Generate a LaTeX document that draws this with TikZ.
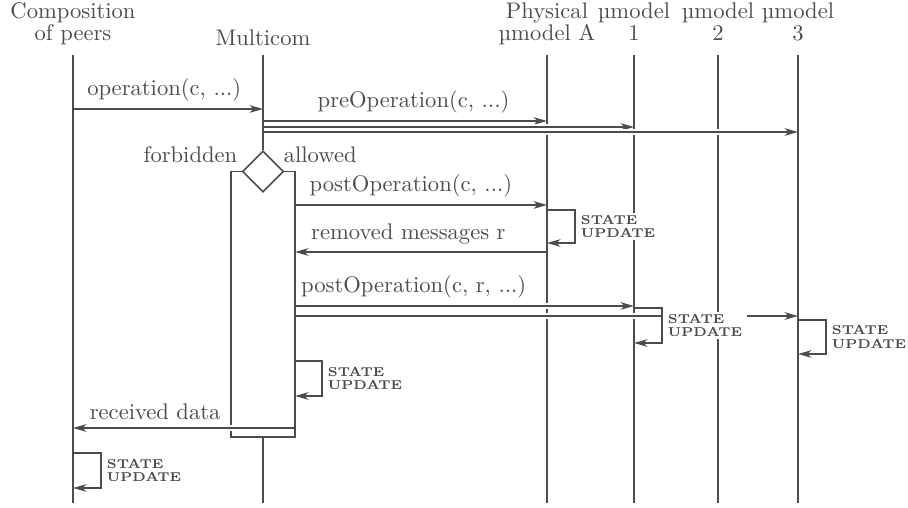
\documentclass[tikz,border=0pt]{standalone}
\usetikzlibrary{arrows.meta,shapes.geometric}
\colorlet{ink}{black!70}
\tikzset{
	head/.style={align=center,anchor=north,inner sep=0pt,font=\fontsize{10}{9.7}\selectfont},
	msg/.style={->,preaction={draw=white,line width=2.6pt,arrows=-,shorten <=0.8pt,shorten >=0.8pt}},
	upd/.style={right,align=left,inner xsep=2.3pt,inner ysep=1pt,font=\fontsize{5.7}{6.1}\selectfont\bfseries},
}
\begin{document}
\begin{tikzpicture}[x=0.4425pt,y=-0.4425pt,line width=0.65pt,draw=ink,text=ink,
	>={Stealth[length=6pt,width=3.4pt,inset=1.8pt]}]
	\useasboundingbox (0,0) rectangle (908,508);
	% heads
	\foreach \n/\x/\t in {comp/73/{Composition\\of peers},phys/547/{Physical\\µmodel A},
		mod1/634/{µmodel\\1},mod2/718/{µmodel\\2},mod3/798/{µmodel\\3}}
	\node[head] (\n) at (\x,2) {\t};
	\node[head] (multi) at (263,29.5) {Multicom};
	% lifelines
	\foreach \n/\x in {C/73,M/263,A/547,U1/634,U2/718,U3/798}
	\path (\x,55) coordinate (\n_t) (\x,503) coordinate (\n_b);
	\node[diamond,draw,inner sep=0pt,minimum size=18.2pt] (dec) at (263,171.5) {};
	\path
	(231,171.5) coordinate (F_tl) (231,437) coordinate (F_bl)
	(295,437) coordinate (F_br) (295,171.5) coordinate (F_tr)
	(263,437) coordinate (M_f)
	(73,109) coordinate (C_1) (263,109) coordinate (M_1)
	(263,121) coordinate (M_2) (547,121) coordinate (A_2)
	(263,127) coordinate (M_3) (634,127) coordinate (U1_3)
	(263,132) coordinate (M_4) (798,132) coordinate (U3_4)
	(295,205) coordinate (R_5) (547,205) coordinate (A_5)
	(547,252) coordinate (A_6) (295,252) coordinate (R_6)
	(295,306) coordinate (R_7) (634,306) coordinate (U1_7)
	(295,316) coordinate (R_8) (798,316) coordinate (U3_8)
	(295,428) coordinate (R_9) (73,428) coordinate (C_9)
	(547,210) coordinate (A_u) (547,243) coordinate (A_d)
	(634,308) coordinate (U1_u) (634,343) coordinate (U1_d)
	(798,320) coordinate (U3_u) (798,354) coordinate (U3_d)
	(295,361) coordinate (R_u) (295,396) coordinate (R_d)
	(73,453) coordinate (C_u) (73,488) coordinate (C_d)
	;
	\draw
	(C_t)--(C_b) (A_t)--(A_b) (U1_t)--(U1_b) (U2_t)--(U2_b) (U3_t)--(U3_b)
	(M_t)--(dec.north) (M_f)--(M_b)
	(dec.west)--(F_tl)--(F_bl)--(F_br)--(F_tr)--(dec.east)
	;
	\node[left] (forb) at (245.5,155) {forbidden};
	\node[right] (allw) at (275.5,155) {allowed};
	% messages
	\draw[msg] (C_1) -- node[above,pos=.48]{operation(c, ...)} (M_1);
	\draw[msg] (M_2) -- node[above,pos=.53]{preOperation(c, ...)} (A_2);
	\draw[msg] (M_3) -- (U1_3);
	\draw[msg] (M_4) -- (U3_4);
	\draw[msg] (R_5) -- node[above,pos=.46]{postOperation(c, ...)} (A_5);
	\draw[msg] (A_6) -- node[above,pos=.55]{removed messages r} (R_6);
	\draw[msg] (R_7) -- node[above,pos=.35]{postOperation(c, r, ...)} (U1_7);
	\draw[msg] (R_8) -- (U3_8);
	\draw[msg] (R_9) -- node[above,pos=.63]{received data} (C_9);
	% state updates
	\foreach \s/\w in {A/28,U1/28,U3/28,R/27,C/28}
	\draw[->] (\s_u) -- ++(\w,0) |- node[upd,pos=.25,fill=white]{STATE\\UPDATE} (\s_d);
\end{tikzpicture}
\end{document}
